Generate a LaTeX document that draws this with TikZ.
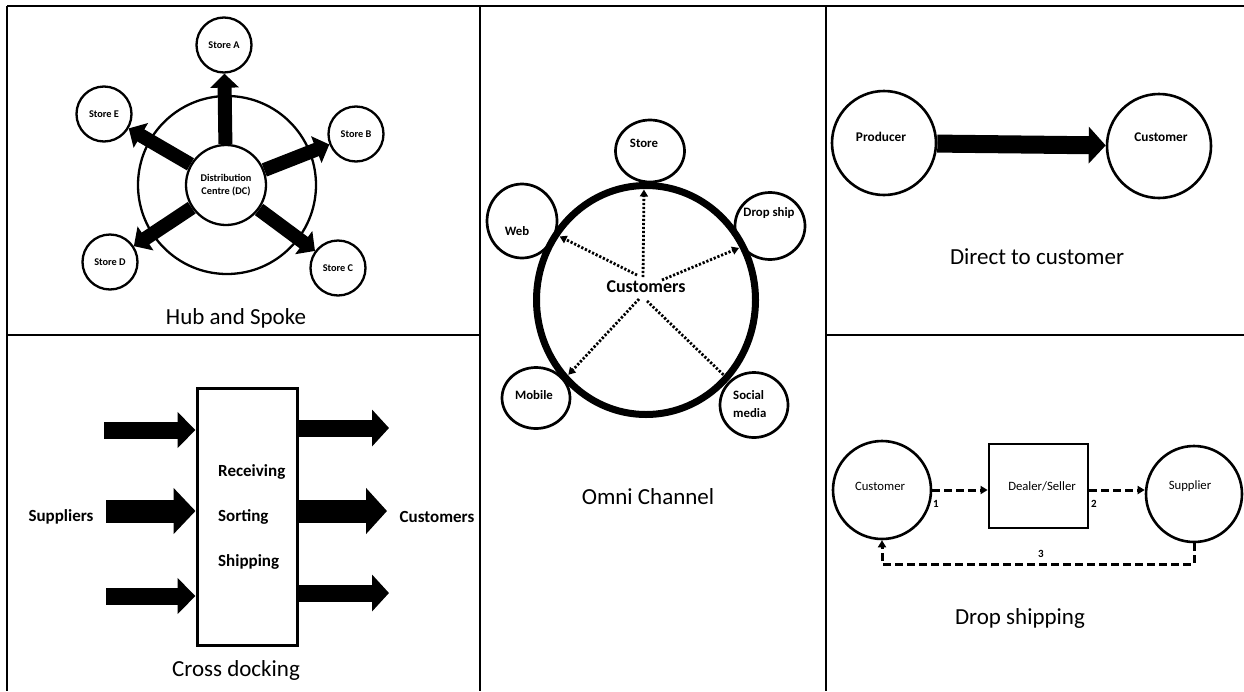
\documentclass[tikz,border=0pt]{standalone}
\usepackage{fontspec}
\setmainfont{Carlito}
\usetikzlibrary{arrows.meta,shapes.geometric}
\begin{document}
\begin{tikzpicture}[x=1pt,y=-1pt,
  panelline/.style={line width=2.6pt},
  paneltitle/.style={font=\fontsize{23}{27}\selectfont, inner sep=0pt},
  hubnode/.style={circle, draw, line width=2.3pt, inner sep=0pt, minimum size=#1,
    align=center, font=\bfseries\fontsize{10.3}{13}\selectfont},
  spoke/.style={line width=14pt, -{Triangle[length=14pt,width=28pt]}},
  thinblock/.style={line width=17pt, -{Triangle[length=18pt,width=35pt]}},
  fatblock/.style={line width=23pt, -{Triangle[length=22pt,width=45pt]}},
  docklabel/.style={inner sep=0pt, font=\bfseries\fontsize{17}{20}\selectfont},
  channel/.style={ellipse, draw, line width=2.7pt, inner sep=0pt},
  channellabel/.style={inner sep=0pt, align=left, font=\bfseries\fontsize{12.8}{18}\selectfont},
  dotline/.style={line width=2.8pt, dash pattern=on 2.2pt off 1.8pt, shorten >=4pt},
  dotarrow/.style={dotline, -{Triangle[length=7pt,width=8pt]}},
  bigcircle/.style={circle, draw, line width=2.6pt, inner sep=0pt, minimum size=#1},
  directlabel/.style={inner sep=0pt, font=\bfseries\fontsize{13.3}{16}\selectfont},
  droplabel/.style={inner sep=0pt, font=\fontsize{12.7}{15}\selectfont},
  numlabel/.style={inner sep=0pt, font=\bfseries\fontsize{11}{13}\selectfont},
  dashline/.style={line width=3pt, dash pattern=on 8pt off 4pt},
  dasharrow/.style={dashline, -{Triangle[length=7pt,width=8pt]}}
]
\useasboundingbox (0,0) rectangle (1244,691);

% ---------- panel grid ----------
\draw[panelline] (7,6) -- (1244,6);
\draw[panelline] (7,6) -- (7,691);
\draw[panelline] (480,6) -- (480,691);
\draw[panelline] (826,6) -- (826,691);
\draw[panelline] (7,335) -- (480,335);
\draw[panelline] (826,335) -- (1244,335);

% ---------- Hub and Spoke ----------
\node[hubnode=178pt] (hubring) at (227,185) {};
\node[hubnode=80pt] (dc) at (226,185) {Distribution\\Centre (DC)};
\node[hubnode=55pt] (sa) at (224,45) {Store A};
\node[hubnode=55pt] (sb) at (356,134) {Store B};
\node[hubnode=55pt] (sc) at (338,268) {Store C};
\node[hubnode=55pt] (sd) at (110,262) {Store D};
\node[hubnode=55pt] (se) at (104,114) {Store E};
\foreach \s in {sa,sb,sc,sd,se} \draw[spoke] (dc) -- (\s);
\node[paneltitle] (hubtitle) at (236,318) {Hub and Spoke};

% ---------- Cross docking ----------
\node[draw, line width=3pt, minimum width=100pt, minimum height=257pt, inner sep=0pt] (dock) at (247,516.5) {};
\node[docklabel, anchor=west] (recv) at (218,472) {Receiving};
\node[docklabel, anchor=west] (sort) at (218,517) {Sorting};
\node[docklabel, anchor=west] (ship) at (218,562) {Shipping};
\node[docklabel] (suppliers) at (61,517) {Suppliers};
\node[docklabel] (dockcust) at (437,517) {Customers};
\coordinate (in1) at (104,430);
\coordinate (in2) at (106,511);
\coordinate (in3) at (106,596);
\coordinate (out1) at (389,428);
\coordinate (out2) at (387,511);
\coordinate (out3) at (389,593);
\draw[thinblock] (in1) -- (in1 -| dock.west);
\draw[fatblock] (in2) -- (in2 -| dock.west);
\draw[thinblock] (in3) -- (in3 -| dock.west);
\draw[thinblock, -{Triangle[length=17pt,width=36pt]}] (out1 -| dock.east) -- (out1);
\draw[fatblock, -{Triangle[length=21pt,width=45pt]}] (out2 -| dock.east) -- (out2);
\draw[thinblock, -{Triangle[length=17pt,width=36pt]}] (out3 -| dock.east) -- (out3);
\node[paneltitle] (docktitle) at (236,670) {Cross docking};

% ---------- Omni Channel ----------
\node[channel, minimum width=69pt, minimum height=62pt] (ostore) at (650,151) {};
\node[channel, minimum width=70pt, minimum height=74pt] (oweb) at (522,221) {};
\node[channel, minimum width=70pt, minimum height=67pt] (odrop) at (770,226) {};
\node[channel, minimum width=68pt, minimum height=61pt] (omob) at (536,398) {};
\node[channel, minimum width=68pt, minimum height=65pt] (osoc) at (754,405) {};
\node[ellipse, draw, line width=7pt, outer sep=0pt, minimum width=219pt, minimum height=229pt, inner sep=0pt] (omniring) at (646,300) {};
\node[channellabel] (lstore) at (644,143) {Store};
\node[channellabel] (lweb) at (517,231) {Web};
\node[channellabel] (ldrop) at (769,213) {Drop ship};
\node[channellabel] (lmob) at (534,395) {Mobile};
\node[channellabel, anchor=west] (lsoc) at (733,404) {Social\\media};
\node[inner sep=0pt, font=\bfseries\fontsize{18}{21}\selectfont] (omnicust) at (646,287) {Customers};
\coordinate (fstore) at (643,277);
\coordinate (fweb) at (637,275);
\coordinate (fdrop) at (662,280);
\coordinate (fmob) at (639,299);
\coordinate (fsoc) at (647,301);
\draw[dotarrow] (fstore) -- (omniring.91.5);
\draw[dotarrow] (fweb) -- (omniring.144.4);
\draw[dotarrow] (fdrop) -- (omniring.29.4);
\draw[dotarrow] (fmob) -- (omniring.224.6);
\draw[dotline] (fsoc) -- (omniring.316.2);
\node[paneltitle] (omnititle) at (648,497) {Omni Channel};

% ---------- Direct to customer ----------
\node[bigcircle=104pt] (prod) at (884,143) {};
\node[bigcircle=104pt] (dcust) at (1159,146) {};
\node[directlabel] (lprod) at (881,137) {Producer};
\node[directlabel] (ldcust) at (1161,137) {Customer};
\draw[line width=18pt, -{Triangle[length=17pt,width=36pt]}] (prod) -- (dcust);
\node[paneltitle] (directtitle) at (1037,257) {Direct to customer};

% ---------- Drop shipping ----------
\node[bigcircle=98pt] (cust) at (882,490) {};
\node[draw, line width=2.8pt, minimum width=99pt, minimum height=84pt, inner sep=0pt] (dealer) at (1038.5,486) {};
\node[bigcircle=96pt] (supp) at (1194,494) {};
\node[droplabel] (lcust) at (880,486) {Customer};
\node[droplabel] (ldealer) at (1042,486) {Dealer/Seller};
\node[droplabel] (lsupp) at (1190,486) {Supplier};
\draw[dasharrow] (cust.east) -- (cust.east -| dealer.west);
\draw[dasharrow] (cust.east -| dealer.east) -- (cust.east -| supp.west);
\coordinate (loop) at (1041,564);
\draw[dasharrow] (supp.south) -- (supp.south |- loop) -- (cust.south |- loop) -- (cust.south);
\node[numlabel] (n1) at (936,504) {1};
\node[numlabel] (n2) at (1094,504) {2};
\node[numlabel] (n3) at (1041,554) {3};
\node[paneltitle] (droptitle) at (1020,618) {Drop shipping};
\end{tikzpicture}
\end{document}
